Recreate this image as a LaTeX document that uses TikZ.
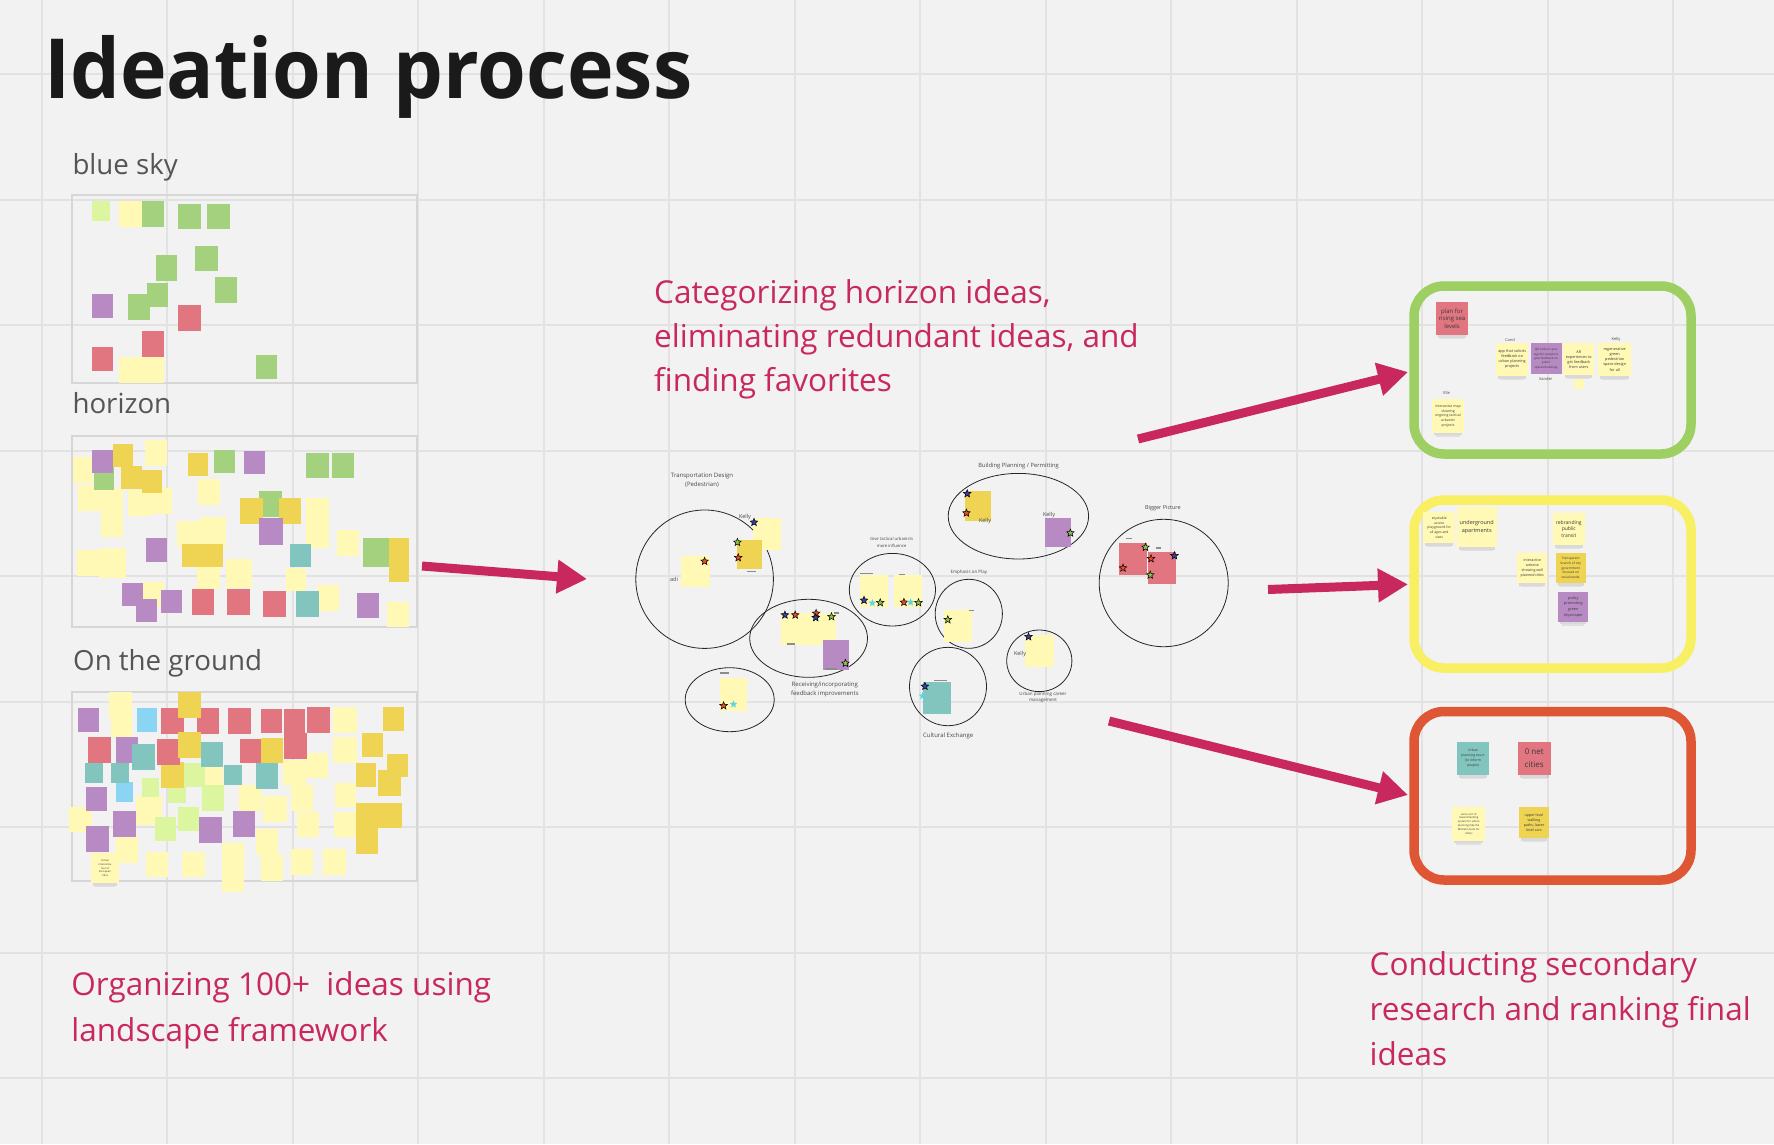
\documentclass[tikz,border=0pt]{standalone}
\usepackage{graphicx}
\usepackage{fontspec}
\setmainfont{Open Sans}
\usetikzlibrary{arrows.meta,shapes.geometric}
\definecolor{bg}{HTML}{F2F2F2}
\definecolor{gridc}{HTML}{E2E2E2}
\definecolor{boxc}{HTML}{D6D6D6}
\definecolor{ly}{HTML}{FFF9B5}
\definecolor{gold}{HTML}{EFD352}
\definecolor{grn}{HTML}{A3D17E}
\definecolor{pur}{HTML}{B78AC3}
\definecolor{rd}{HTML}{E17580}
\definecolor{teal}{HTML}{82C5BF}
\definecolor{lblue}{HTML}{89D5F3}
\definecolor{lime}{HTML}{DCF59F}
\definecolor{mag}{HTML}{C9285F}
\definecolor{titlec}{HTML}{1A1A1A}
\definecolor{labc}{HTML}{555555}
\definecolor{ntext}{HTML}{3A3A3A}
\definecolor{fgreen}{HTML}{9ECF62}
\definecolor{fyellow}{HTML}{F8EF62}
\definecolor{fred}{HTML}{DF5634}
\definecolor{sblue}{HTML}{3A3FA8}
\definecolor{sred}{HTML}{E64B2B}
\definecolor{sgreen}{HTML}{8BC34A}
\definecolor{scyan}{HTML}{5ED5DE}
\newcommand\fsz[2]{\fontsize{#1}{#2}\selectfont}
\newcommand\stk[5]{\fill[#1] (#2,#3) rectangle (#4,#5);}
\newcommand\shd[3]{\fill[black,opacity=.1] (#1+2,#3-1) rectangle (#2-2,#3+2.5);\fill[black,opacity=.07] (#1+4,#3+2.5) rectangle (#2-4,#3+4);}
\newcommand\sta[4]{\node[starn,fill=#2] (#1) at (#3,#4) {};}
\newcommand\stc[3]{\node[starn,draw=none,fill=scyan] (#1) at (#2,#3) {};}
\begin{document}
\begin{tikzpicture}[x=1pt,y=-1pt,
  lab/.style={anchor=base west,inner sep=0pt,font=\fsz{27.7}{34},text=labc},
  pink/.style={anchor=base west,inner sep=0pt,font=\fsz{31.5}{44},text=mag},
  framebox/.style={draw=boxc,line width=2pt,inner sep=0pt},
  rframe/.style={line width=9.5pt,rounded corners=30pt,inner sep=0pt,minimum width=277pt},
  note/.style={inner sep=0pt,align=center,text=ntext},
  clab/.style={inner sep=0pt,align=center,text=black!72},
  circ/.style={ellipse,draw=black!85,line width=0.8pt,inner sep=0pt},
  starn/.style={star,star points=5,star point ratio=2.3,minimum size=8pt,inner sep=0pt,draw=black,line width=0.5pt},
  arr/.style={line width=9pt,draw=mag,-{Triangle[length=30pt,width=32pt]}},
  gbar/.style={draw=black!45,line width=1.3pt}]
\fill[bg] (0,0) rectangle (1774,1144);
\useasboundingbox (0,0) rectangle (1774,1144);
% grid
\foreach \gx in {41.5,167,292.5,418,543.5,669,794.5,920,1045.5,1171,1296.5,1422,1547.5,1673}
  \draw[gridc,line width=2pt] (\gx,0) -- (\gx,1144);
\foreach \gy in {74,199.5,325,450.5,576,701.5,827,952.5,1078}
  \draw[gridc,line width=2pt] (0,\gy) -- (1774,\gy);
% title and labels
\node[anchor=base west,inner sep=0pt,font=\fsz{83}{90}\bfseries,text=titlec] (title) at (44,98) {\scalebox{0.95}[1]{Ideation process}};
\node[lab] (lsky) at (72.3,174) {blue sky};
\node[lab] (lhor) at (72.3,413) {horizon};
\node[lab] (lgnd) at (73,670.7) {On the ground};
% frames left
\node[framebox,minimum width=345pt,minimum height=188pt] (bsky) at (244.5,288.5) {};
\node[framebox,minimum width=345pt,minimum height=191pt] (bhor) at (244.5,531.5) {};
\node[framebox,minimum width=345pt,minimum height=189pt] (bgnd) at (244.5,786.5) {};
% blue sky notes
\stk{lime}{92}{201}{110}{221}
\stk{ly}{119}{201}{141.5}{227}
\stk{grn}{141.5}{201}{164}{227}
\stk{grn}{178}{204}{200.7}{229}
\stk{grn}{207}{204}{230}{229}
\stk{grn}{155.6}{255}{177.4}{281}
\stk{grn}{195}{246}{218}{271}
\stk{grn}{214.7}{277}{237}{303}
\stk{pur}{92}{294}{112.5}{318}
\stk{grn}{127.5}{294}{150}{320}
\stk{grn}{147}{283}{168}{307}
\stk{rd}{178}{305}{200.7}{331}
\stk{rd}{141.5}{331}{164}{357}
\stk{rd}{92}{347}{113}{371}
\stk{ly}{119}{357}{164}{383}
\stk{grn}{256}{355}{277}{379}
% horizon notes
\stk{ly}{72.7}{456.7}{93.3}{482.7}
\stk{ly}{145}{440}{167.3}{465.7}
\stk{ly}{78.3}{485}{101.7}{510.7}
\stk{ly}{101}{488}{123.3}{536.7}
\stk{ly}{128.3}{490}{150.7}{515.7}
\stk{ly}{149.3}{488}{171.7}{514}
\stk{ly}{197.7}{479}{220}{505}
\stk{ly}{176.7}{521}{200}{546.7}
\stk{ly}{200}{517}{225.7}{546.7}
\stk{ly}{306}{498}{328.7}{547.7}
\stk{ly}{336.7}{530}{359}{556}
\stk{ly}{77.3}{550}{100}{575.7}
\stk{ly}{99}{547.7}{125.7}{578.3}
\stk{ly}{197.3}{563}{220}{589}
\stk{ly}{226}{559}{251.7}{588}
\stk{ly}{143.3}{581.7}{164}{606.7}
\stk{ly}{286}{568}{306}{590.7}
\stk{ly}{316.7}{585}{339}{610.7}
\stk{ly}{387.3}{601.7}{409.3}{626.7}
\stk{grn}{94}{466.7}{114.3}{490}
\stk{grn}{214.3}{450}{235}{473.3}
\stk{grn}{306}{452.7}{328.7}{478.3}
\stk{grn}{331.7}{452.7}{354}{478.3}
\stk{grn}{259.3}{491}{282}{516.7}
\stk{grn}{363.3}{538.3}{389}{566.7}
\stk{gold}{112.7}{444}{133.3}{467.3}
\stk{gold}{121}{466}{141.7}{489.3}
\stk{gold}{141.7}{470}{162}{493.3}
\stk{gold}{187.7}{452.7}{208.3}{476}
\stk{gold}{240.3}{498.3}{263}{524}
\stk{gold}{278.7}{498.3}{301}{524}
\stk{gold}{181.7}{544}{222.7}{567.3}
\stk{gold}{389}{538.3}{409.3}{581.7}
\stk{pur}{92}{450}{112.7}{473.3}
\stk{pur}{244.3}{451}{265.3}{474.3}
\stk{pur}{259.3}{518.3}{283}{545}
\stk{pur}{146.3}{538.3}{167}{561.7}
\stk{pur}{122}{582.7}{142.7}{606}
\stk{pur}{136}{599}{156.7}{622.3}
\stk{pur}{160.7}{590}{181.7}{613.3}
\stk{pur}{357}{592.7}{379.3}{618.3}
\stk{teal}{290.3}{544}{311}{567.3}
\stk{teal}{296}{591}{318.7}{616.7}
\stk{rd}{191.7}{589}{214.3}{614.7}
\stk{rd}{227.3}{589}{250}{614.7}
\stk{rd}{263}{591}{285.7}{616.7}
% ground notes
\stk{ly}{109.3}{692.3}{131.7}{717.7}
\stk{ly}{111}{713.3}{131.7}{736.7}
\stk{ly}{333.3}{707.3}{356.7}{733.3}
\stk{ly}{333.3}{737.3}{356.7}{763.3}
\stk{ly}{205}{766.7}{223.3}{785}
\stk{ly}{282.7}{760}{306}{785}
\stk{ly}{305}{752.7}{327.7}{778.3}
\stk{ly}{291}{785}{313.3}{810.7}
\stk{ly}{239.3}{785}{261.7}{810.7}
\stk{ly}{263.3}{795.7}{286.7}{821.7}
\stk{ly}{335}{783.3}{356}{806.7}
\stk{ly}{136}{795.7}{162}{825}
\stk{ly}{69.3}{806.7}{91.7}{832.3}
\stk{ly}{296.7}{811.7}{319.3}{837.3}
\stk{ly}{334}{811.7}{356}{836.7}
\stk{ly}{115.7}{837.3}{138.3}{862.7}
\stk{ly}{255.7}{829.3}{277.7}{855}
\stk{ly}{260.7}{855}{283.3}{880.7}
\stk{ly}{221.7}{843.3}{244.3}{891.7}
\stk{ly}{146}{851.7}{168.3}{877.3}
\stk{ly}{182.3}{851.7}{205}{877.3}
\stk{ly}{291}{849}{313.3}{875}
\stk{ly}{323.3}{849}{346}{875}
\stk{lime}{141.7}{777.7}{159}{796.7}
\stk{lime}{168.3}{782.7}{186}{802.7}
\stk{gold}{161}{761.7}{184}{787.7}
\stk{lime}{184}{763.3}{205}{786.7}
\stk{lime}{201.7}{785}{224}{810.7}
\stk{lime}{155}{816.7}{175.7}{840.7}
\stk{lime}{178.3}{806.7}{199}{830.7}
\stk{pur}{78.3}{708.3}{99.3}{731.7}
\stk{pur}{115.7}{736.7}{138.3}{762.7}
\stk{pur}{86}{787.3}{106.7}{810.7}
\stk{pur}{113.3}{811}{136}{836.7}
\stk{pur}{86}{825.7}{109}{851.7}
\stk{pur}{199}{816.7}{221.7}{842.7}
\stk{pur}{232.7}{811}{255.3}{836.7}
\stk{lblue}{136.7}{708.3}{157.3}{731.7}
\stk{lblue}{115.7}{782.3}{133.3}{802.3}
\stk{rd}{161}{708.3}{184}{734}
\stk{rd}{196.7}{708.3}{219.3}{734}
\stk{rd}{228.3}{708.3}{251}{734}
\stk{rd}{260.7}{709.3}{281.7}{733.3}
\stk{rd}{284.3}{709.3}{305.3}{735}
\stk{rd}{307.3}{707.3}{330}{733.3}
\stk{rd}{88.3}{736.7}{111}{762.7}
\stk{teal}{132.3}{744.3}{155}{770}
\stk{rd}{157.3}{739}{180}{765}
\stk{teal}{200.7}{741.7}{223.3}{766.7}
\stk{rd}{240}{739}{262.7}{763.3}
\stk{rd}{284.3}{733.3}{307.3}{759.3}
\stk{teal}{85}{762.7}{102.7}{782.7}
\stk{teal}{111}{762.7}{129}{782.7}
\stk{teal}{224.3}{765}{242.3}{785}
\stk{teal}{255.7}{763.3}{278.3}{789.3}
\stk{gold}{177.7}{692.3}{200.7}{717.7}
\stk{gold}{177.7}{732.3}{200.7}{758.3}
\stk{gold}{261}{737.7}{282.7}{763.3}
\stk{gold}{383.3}{707.3}{404}{730.7}
\stk{gold}{362.3}{733.3}{383.3}{756.7}
\stk{gold}{355.7}{763.3}{376}{786.7}
\stk{gold}{387.3}{754}{407.7}{777.3}
\stk{gold}{378.3}{770}{400.7}{796}
\stk{gold}{356}{803.3}{401.7}{828.3}
\stk{gold}{355.7}{828.3}{377.7}{854.3}
\shd{90.7}{119.3}{883.3}
\node[note,fill=ly,minimum width=28.6pt,minimum height=30pt,font=\fsz{2.6}{3.7}] (gvirt) at (105,868.3) {virtual\\interactive\\tour of\\European\\cities};
% ---- center cluster ----
\node[circ,minimum width=137.6pt,minimum height=138.4pt] (ctrans) at (704.6,579.2) {};
\node[circ,minimum width=117.8pt,minimum height=78pt] (crecv) at (808.6,638.3) {};
\node[circ,minimum width=89pt,minimum height=64pt] (cbl) at (729.7,699.7) {};
\node[circ,minimum width=86.2pt,minimum height=72.6pt] (ctact) at (892.4,589.7) {};
\node[circ,minimum width=67.2pt,minimum height=69pt] (cplay) at (968.8,613.8) {};
\node[circ,minimum width=77pt,minimum height=78.4pt] (ccult) at (948,686.5) {};
\node[circ,minimum width=65.2pt,minimum height=61.6pt] (ccar) at (1039.3,660.8) {};
\node[circ,minimum width=140.4pt,minimum height=85.6pt] (cbuild) at (1018.4,516.2) {};
\node[circ,minimum width=129pt,minimum height=127.4pt] (cbig) at (1163.7,583) {};
% cluster notes
\stk{ly}{752.5}{518.3}{781}{550}
\stk{gold}{736.6}{540}{762.3}{569.3}
\stk{ly}{681.3}{555.7}{709.8}{587.3}
\stk{ly}{781}{612.7}{810}{645}
\stk{ly}{806}{612.7}{835.5}{645}
\stk{pur}{822.5}{640}{848.5}{670}
\stk{ly}{719.6}{678.3}{747.3}{710.7}
\stk{ly}{860}{575}{888}{607.3}
\stk{ly}{894}{575}{921.7}{607.3}
\stk{ly}{944.2}{610}{971.9}{642.3}
\stk{teal}{922.9}{682.3}{951}{714}
\stk{ly}{1025.3}{635}{1053.8}{667.3}
\stk{gold}{965.2}{491}{990.5}{520.7}
\stk{pur}{1045}{518.3}{1070.8}{547.3}
\stk{rd}{1119.4}{543.3}{1147}{575}
\stk{rd}{1147.9}{551.7}{1175.6}{584}
% grey name marks
\draw[gbar] (746.8,571.3) -- (755.8,571.3);
\draw[gbar] (860.2,573.7) -- (873.2,573.7);
\draw[gbar] (899.2,574.3) -- (904.6,574.3);
\draw[gbar] (786.5,644) -- (795.1,644);
\draw[gbar] (834.2,613) -- (839.2,613);
\draw[gbar] (824.5,669) -- (837.1,669);
\draw[gbar] (720,673) -- (728.8,673);
\draw[gbar] (968.6,610.7) -- (973.6,610.7);
\draw[gbar] (934,680.7) -- (946.6,680.7);
\draw[gbar] (1125.9,538.7) -- (1131.9,538.7);
\draw[gbar] (1155.7,548) -- (1160.7,548);
% cluster labels
\node[clab,font=\fsz{6}{8.6}] (ttrans) at (702,480) {Transportation Design\\(Pedestrian)};
\node[clab,font=\fsz{5.5}{6}] (tk1) at (745,516.7) {Kelly};
\node[clab,font=\fsz{5.5}{6}] (tadi) at (674,579) {adi};
\node[clab,font=\fsz{4.2}{6.7}] (ttact) at (891.6,542.6) {Give tactical urbanists\\more influence};
\node[clab,font=\fsz{4.5}{5}] (tplay) at (968.8,572.3) {Emphasis on Play};
\node[clab,font=\fsz{5.8}{6}] (tbuild) at (1018.6,465.7) {Building Planning / Permitting};
\node[clab,font=\fsz{5.5}{6}] (tk2) at (985,520.7) {Kelly};
\node[clab,font=\fsz{5.5}{6}] (tk3) at (1049,514.7) {Kelly};
\node[clab,font=\fsz{5.5}{6}] (tbig) at (1162.9,507.7) {Bigger Picture};
\node[clab,font=\fsz{6}{9}] (trecv) at (824.8,689.5) {Receiving/incorporating\\feedback improvements};
\node[clab,font=\fsz{6}{6}] (tcult) at (948.2,735.7) {Cultural Exchange};
\node[clab,font=\fsz{4.5}{6.4}] (tcar) at (1043,697.5) {Urban planning career\\management};
\node[clab,font=\fsz{5.5}{6}] (tk4) at (1020,654.3) {Kelly};
% stars
\sta{s1}{sblue}{754}{522.3}
\sta{s2}{sgreen}{737.4}{542.3}
\sta{s3}{sred}{738.2}{557.7}
\sta{s4}{sred}{704.6}{561.3}
\sta{s5}{sblue}{784.9}{615}
\sta{s6}{sred}{795.2}{615}
\sta{s7}{sred}{816.1}{613.3}
\sta{s8}{sblue}{815.7}{617.7}
\sta{s9}{sgreen}{831.5}{616.7}
\sta{s10}{sgreen}{845.4}{663.3}
\sta{s11}{sred}{723.6}{705.7}
\stc{s12}{733.5}{704.3}
\sta{s13}{sblue}{864}{600.3}
\stc{s14}{872.3}{603}
\sta{s15}{sgreen}{880.2}{602.7}
\sta{s16}{sred}{903.9}{602.3}
\stc{s17}{910.6}{602.3}
\sta{s18}{sgreen}{918.5}{602.7}
\sta{s19}{sgreen}{947.8}{619.7}
\sta{s20}{sblue}{924.9}{686.3}
\stc{s21}{922.5}{696}
\sta{s22}{sblue}{1028.5}{636.7}
\sta{s23}{sblue}{967.2}{493.7}
\sta{s24}{sred}{966.4}{513}
\sta{s25}{sgreen}{1070.4}{533}
\sta{s26}{sgreen}{1145.5}{547.3}
\sta{s27}{sred}{1151}{558.7}
\sta{s28}{sred}{1123}{568}
\sta{s29}{sblue}{1174.4}{555.7}
\sta{s30}{sgreen}{1150.2}{575}
% ---- right frames ----
\node[rframe,draw=fgreen,minimum height=168pt] (fgrn) at (1552.5,370) {};
\node[rframe,draw=fyellow,minimum height=168pt] (fyel) at (1552.5,584) {};
\node[rframe,draw=fred,minimum height=168.5pt] (fred) at (1552.5,795.75) {};
% green frame notes
\shd{1435.7}{1468.3}{335}
\node[note,fill=rd,minimum width=32.6pt,minimum height=32.7pt,font=\fsz{6}{7.7}] (g1) at (1452,318.7) {plan for\\rising sea\\levels};
\shd{1496}{1528.3}{376}
\node[note,fill=ly,minimum width=32.3pt,minimum height=33.3pt,font=\fsz{3.8}{5}] (g2) at (1512.2,359.3) {app that solicits\\feedback on\\urban planning\\projects};
\shd{1563.3}{1594.3}{375}
\node[note,fill=pur,minimum width=31pt,minimum height=30.7pt,font=\fsz{3}{4.3}] (g3) at (1546.2,358.7) {QR code or spot\\tags for people to\\give feedback on\\public\\spaces/buildings};
\node[note,fill=ly,minimum width=31pt,minimum height=31.7pt,font=\fsz{3.8}{5}] (g4) at (1578.8,359.2) {AR\\experiences to\\get feedback\\from users};
\node[note,fill=ly,minimum width=9.7pt,minimum height=10pt] (g5) at (1578.8,384.3) {};
\shd{1598.3}{1631}{376}
\node[note,fill=ly,minimum width=32.7pt,minimum height=33.3pt,font=\fsz{3.8}{5.3}] (g6) at (1614.7,359.3) {regenerative\\green\\pedestrian\\space design\\for all};
\shd{1431.7}{1464.3}{432.7}
\node[note,fill=ly,minimum width=32.6pt,minimum height=33.4pt,font=\fsz{3.5}{4.7}] (g7) at (1448,416) {interactive map\\showing\\ongoing tactical\\urbanist\\projects};
\node[clab,font=\fsz{4}{5}] (ncarol) at (1510,340) {Carol};
\node[clab,font=\fsz{4}{5}] (nxander) at (1545.7,379) {Xander};
\node[clab,font=\fsz{4}{5}] (nkelly) at (1616,339.5) {Kelly};
\node[clab,font=\fsz{4}{5}] (nelle) at (1446.7,393.3) {Elle};
% yellow frame notes
\shd{1423.3}{1455}{543.3}
\node[note,fill=ly,minimum width=31.7pt,minimum height=31.6pt,font=\fsz{3.4}{4.7}] (y1) at (1439.2,527.5) {equitable\\access\\playground for\\all ages and\\sizes};
\shd{1456.7}{1496.7}{547.3}
\node[note,fill=ly,minimum width=40pt,minimum height=40pt,font=\fsz{5.5}{8.3}] (y2) at (1476.7,527.3) {underground\\apartments};
\shd{1552.7}{1585}{545}
\node[note,fill=ly,minimum width=32.3pt,minimum height=32.3pt,font=\fsz{5}{6.5}] (y3) at (1568.8,528.8) {rebranding\\public\\transit};
\shd{1517.3}{1547.3}{583.3}
\node[note,fill=ly,minimum width=30pt,minimum height=30.6pt,font=\fsz{3.6}{5}] (y4) at (1532.3,568) {interactive\\website\\showing well\\planned cities};
\shd{1555.7}{1586}{583.3}
\node[note,fill=gold,minimum width=30.3pt,minimum height=30.6pt,font=\fsz{3.2}{4.7}] (y5) at (1570.8,568) {Transparent\\branch of city\\government\\focused on\\social needs.};
\shd{1558.3}{1588.3}{621.7}
\node[note,fill=pur,minimum width=30pt,minimum height=30pt,font=\fsz{3.8}{5.6}] (y6) at (1573.3,606.7) {policy\\promoting\\green\\skyscraper};
% red frame notes
\shd{1456.7}{1489.3}{775}
\node[note,fill=teal,minimum width=32.6pt,minimum height=33.3pt,font=\fsz{3.4}{5}] (r1) at (1473,758.3) {Urban\\planning tours\\(to inform\\people)};
\shd{1517.7}{1550.7}{775}
\node[note,fill=rd,minimum width=33pt,minimum height=33.3pt,font=\fsz{8}{13}] (r2) at (1534.2,758.3) {0 net\\cities};
\shd{1452.3}{1485}{840.7}
\node[note,fill=ly,minimum width=32.7pt,minimum height=33.4pt,font=\fsz{2.7}{3.9}] (r3) at (1468.7,824) {some sort of\\reward/ranking\\system for urban\\planning (like the\\Michelin stars for\\cities)};
\shd{1519}{1549}{838.3}
\node[note,fill=gold,minimum width=30pt,minimum height=31pt,font=\fsz{3.6}{5}] (r4) at (1534,822.8) {upper level\\walking\\paths, lower\\level cars};
% ---- pink texts ----
\node[pink] (p1a) at (654,303.3) {Categorizing horizon ideas,};
\node[pink] (p1b) at (654,347.7) {eliminating redundant ideas, and};
\node[pink] (p1c) at (654,391.7) {finding favorites};
\node[pink] (p2a) at (71.2,995.5) {Organizing 100+\ \ ideas using};
\node[pink] (p2b) at (71.2,1041) {landscape framework};
\node[pink] (p3a) at (1369.5,975) {Conducting secondary};
\node[pink] (p3b) at (1369.5,1020.3) {research and ranking final};
\node[pink] (p3c) at (1369.5,1065.5) {ideas};
% ---- arrows ----
\coordinate (a1s) at (422,566);
\coordinate (a1e) at (587,579);
\coordinate (a2s) at (1138,439);
\coordinate (a2e) at (1408,372);
\coordinate (a3s) at (1268,589.5);
\coordinate (a3e) at (1408,584.3);
\coordinate (a4s) at (1109,721);
\coordinate (a4e) at (1408,795);
\draw[arr] (a1s) -- (a1e);
\draw[arr] (a2s) -- (a2e);
\draw[arr] (a3s) -- (a3e);
\draw[arr] (a4s) -- (a4e);
\end{tikzpicture}
\end{document}
